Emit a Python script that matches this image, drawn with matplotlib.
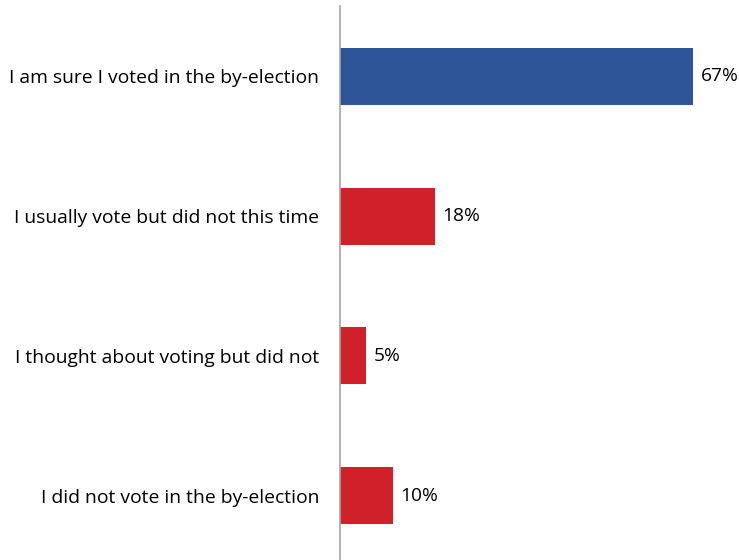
import matplotlib
matplotlib.use("Agg")
import matplotlib.pyplot as plt

# ── data ──────────────────────────────────────────────────────────────────────
categories = [
    "I am sure I voted in the by-election",
    "I usually vote but did not this time",
    "I thought about voting but did not",
    "I did not vote in the by-election",
]
values = [67, 18, 5, 10]
colours = ["#2E5597", "#D0202A", "#D0202A", "#D0202A"]

plt.rcParams["font.family"] = ["Open Sans", "DejaVu Sans"]

fig = plt.figure(figsize=(7.39, 5.6), dpi=100)
ax = fig.add_axes([340 / 739, -0.0098, 395 / 739, 0.9982])

ypos = list(range(len(categories)))
ax.barh(ypos, values, height=0.407, color=colours)

ax.set_ylim(3.5, -0.5)
ax.set_xlim(0, 75)

# value labels
for y, v in zip(ypos, values):
    ax.annotate(f"{v}%", xy=(v, y), xytext=(5.5, 0), textcoords="offset points",
                va="center", ha="left", fontsize=13.8, color="black")

# category labels
ax.set_yticks(ypos)
ax.set_yticklabels(categories, fontsize=13.9)
ax.tick_params(axis="y", length=0, pad=15)
ax.set_xticks([])

for side in ["top", "right", "bottom"]:
    ax.spines[side].set_visible(False)
ax.spines["left"].set_color("#A6A6A6")
ax.spines["left"].set_linewidth(1.2)

fig.savefig("out.png", dpi=100)
